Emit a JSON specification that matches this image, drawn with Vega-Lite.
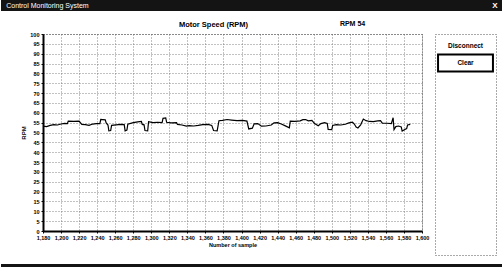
{
  "$schema": "https://vega.github.io/schema/vega-lite/v6.json",
  "padding": 0,
  "background": "white",
  "spacing": 8,
  "align": "none",
  "config": {"font": "Liberation Sans", "view": {"stroke": null}},
  "vconcat": [
    {
      "width": 460,
      "height": 11,
      "data": {"values": [{"label": "Control Monitoring System", "side": "left"}, {"label": "X", "side": "right"}]},
      "layer": [
        {
          "transform": [{"filter": "datum.side === 'left'"}],
          "mark": {"type": "rect", "color": "#141414"},
          "encoding": {
            "x": {"datum": -0.0913, "type": "quantitative", "scale": {"domain": [0, 1]}, "axis": null},
            "x2": {"datum": 1},
            "y": {"datum": 0, "type": "quantitative", "scale": {"domain": [0, 1]}, "axis": null},
            "y2": {"datum": 1}
          }
        },
        {
          "transform": [{"filter": "datum.side === 'left'"}],
          "mark": {"type": "text", "align": "left", "baseline": "middle", "color": "white", "fontSize": 7},
          "encoding": {
            "x": {"datum": -0.08, "type": "quantitative", "axis": null},
            "y": {"datum": 0.5, "type": "quantitative", "axis": null},
            "text": {"field": "label"}
          }
        },
        {
          "transform": [{"filter": "datum.side === 'right'"}],
          "mark": {"type": "text", "align": "right", "baseline": "middle", "color": "white", "fontSize": 8, "fontWeight": "bold"},
          "encoding": {
            "x": {"datum": 0.988, "type": "quantitative", "axis": null},
            "y": {"datum": 0.5, "type": "quantitative", "axis": null},
            "text": {"field": "label"}
          }
        }
      ]
    },
    {
      "spacing": 8,
      "align": "none",
      "vconcat": [
        {
          "spacing": 4,
          "align": "none",
          "hconcat": [
            {
              "width": 379,
              "height": 197,
              "title": {"text": "Motor Speed (RPM)", "fontSize": 7.5, "fontWeight": "bold", "offset": -8, "dx": -19, "color": "black"},
              "view": {"stroke": "#444", "strokeDash": [1, 2]},
              "resolve": {"axis": {"x": "independent", "y": "independent"}},
              "data": {"values": [
                {"sample": 1180, "rpm": 53.2}, {"sample": 1184, "rpm": 53.0}, {"sample": 1188, "rpm": 53.6}, {"sample": 1192, "rpm": 54.0},
                {"sample": 1196, "rpm": 53.8}, {"sample": 1200, "rpm": 54.3}, {"sample": 1204, "rpm": 54.6}, {"sample": 1207, "rpm": 54.5},
                {"sample": 1208, "rpm": 55.8}, {"sample": 1214, "rpm": 55.6}, {"sample": 1220, "rpm": 55.8}, {"sample": 1223, "rpm": 54.1},
                {"sample": 1227, "rpm": 54.0}, {"sample": 1231, "rpm": 53.6}, {"sample": 1235, "rpm": 54.3}, {"sample": 1239, "rpm": 54.5},
                {"sample": 1243, "rpm": 54.5}, {"sample": 1244, "rpm": 56.6}, {"sample": 1249, "rpm": 56.4}, {"sample": 1250, "rpm": 54.9},
                {"sample": 1252, "rpm": 53.8}, {"sample": 1253, "rpm": 50.9}, {"sample": 1255, "rpm": 51.0}, {"sample": 1256, "rpm": 53.6},
                {"sample": 1261, "rpm": 53.9}, {"sample": 1266, "rpm": 54.1}, {"sample": 1270, "rpm": 54.0}, {"sample": 1271, "rpm": 50.8},
                {"sample": 1273, "rpm": 51.2}, {"sample": 1274, "rpm": 54.2}, {"sample": 1280, "rpm": 55.0}, {"sample": 1285, "rpm": 55.4},
                {"sample": 1289, "rpm": 55.6}, {"sample": 1290, "rpm": 54.1}, {"sample": 1292, "rpm": 53.9}, {"sample": 1293, "rpm": 51.0},
                {"sample": 1296, "rpm": 50.8}, {"sample": 1297, "rpm": 55.5}, {"sample": 1302, "rpm": 55.0}, {"sample": 1307, "rpm": 55.2},
                {"sample": 1312, "rpm": 55.0}, {"sample": 1313, "rpm": 57.2}, {"sample": 1316, "rpm": 57.4}, {"sample": 1317, "rpm": 55.2},
                {"sample": 1322, "rpm": 54.9}, {"sample": 1328, "rpm": 55.0}, {"sample": 1329, "rpm": 54.1}, {"sample": 1334, "rpm": 53.8},
                {"sample": 1339, "rpm": 53.2}, {"sample": 1342, "rpm": 53.5}, {"sample": 1347, "rpm": 53.3}, {"sample": 1352, "rpm": 53.6},
                {"sample": 1357, "rpm": 54.0}, {"sample": 1363, "rpm": 54.1}, {"sample": 1367, "rpm": 53.6}, {"sample": 1369, "rpm": 51.0},
                {"sample": 1373, "rpm": 50.8}, {"sample": 1375, "rpm": 56.0}, {"sample": 1379, "rpm": 56.2}, {"sample": 1384, "rpm": 56.6},
                {"sample": 1389, "rpm": 56.3}, {"sample": 1395, "rpm": 56.0}, {"sample": 1401, "rpm": 56.2}, {"sample": 1406, "rpm": 55.8},
                {"sample": 1408, "rpm": 51.8}, {"sample": 1412, "rpm": 52.2}, {"sample": 1414, "rpm": 54.4}, {"sample": 1418, "rpm": 54.5},
                {"sample": 1422, "rpm": 53.2}, {"sample": 1427, "rpm": 53.3}, {"sample": 1433, "rpm": 53.8}, {"sample": 1436, "rpm": 54.9},
                {"sample": 1440, "rpm": 55.0}, {"sample": 1444, "rpm": 54.3}, {"sample": 1448, "rpm": 53.5}, {"sample": 1453, "rpm": 52.4},
                {"sample": 1454, "rpm": 55.8}, {"sample": 1459, "rpm": 55.6}, {"sample": 1465, "rpm": 55.9}, {"sample": 1468, "rpm": 56.5},
                {"sample": 1471, "rpm": 56.6}, {"sample": 1474, "rpm": 55.9}, {"sample": 1478, "rpm": 56.2}, {"sample": 1481, "rpm": 54.5},
                {"sample": 1485, "rpm": 53.4}, {"sample": 1488, "rpm": 54.5}, {"sample": 1492, "rpm": 55.0}, {"sample": 1495, "rpm": 54.6},
                {"sample": 1496, "rpm": 51.6}, {"sample": 1500, "rpm": 51.5}, {"sample": 1501, "rpm": 53.6}, {"sample": 1505, "rpm": 54.0},
                {"sample": 1510, "rpm": 53.8}, {"sample": 1515, "rpm": 54.2}, {"sample": 1519, "rpm": 54.9}, {"sample": 1523, "rpm": 55.2},
                {"sample": 1525, "rpm": 54.3}, {"sample": 1527, "rpm": 52.8}, {"sample": 1529, "rpm": 52.3}, {"sample": 1532, "rpm": 53.9},
                {"sample": 1535, "rpm": 56.8}, {"sample": 1538, "rpm": 56.0}, {"sample": 1542, "rpm": 55.6}, {"sample": 1546, "rpm": 55.5},
                {"sample": 1551, "rpm": 55.9}, {"sample": 1554, "rpm": 56.0}, {"sample": 1556, "rpm": 54.8}, {"sample": 1561, "rpm": 54.7},
                {"sample": 1566, "rpm": 54.5}, {"sample": 1568, "rpm": 57.5}, {"sample": 1569, "rpm": 51.5}, {"sample": 1571, "rpm": 53.0},
                {"sample": 1574, "rpm": 53.3}, {"sample": 1577, "rpm": 52.8}, {"sample": 1578, "rpm": 50.7}, {"sample": 1581, "rpm": 51.5},
                {"sample": 1583, "rpm": 52.0}, {"sample": 1584, "rpm": 53.8}, {"sample": 1587, "rpm": 54.1}
              ]},
              "layer": [
                {
                  "mark": {"type": "line", "color": "black", "strokeWidth": 1.2},
                  "encoding": {
                    "x": {
                      "field": "sample", "type": "quantitative",
                      "scale": {"domain": [1180, 1600], "nice": false, "zero": false},
                      "axis": {
                        "title": "Number of sample",
                        "values": [1180, 1200, 1220, 1240, 1260, 1280, 1300, 1320, 1340, 1360, 1380, 1400, 1420, 1440, 1460, 1480, 1500, 1520, 1540, 1560, 1580, 1600],
                        "labelExpr": "format(datum.value, ',.0f')",
                        "labelFontSize": 5.5, "labelFontWeight": "bold", "labelColor": "black",
                        "labelOverlap": false, "labelFlush": false, "labelPadding": 2,
                        "tickSize": 2, "tickColor": "black",
                        "titleFontSize": 5.5, "titleFontWeight": "bold", "titleColor": "black", "titlePadding": 2,
                        "domainColor": "black", "domainWidth": 2,
                        "grid": true, "gridColor": "#666", "gridDash": [1, 2], "gridWidth": 0.8
                      }
                    },
                    "y": {
                      "field": "rpm", "type": "quantitative",
                      "scale": {"domain": [0, 100], "nice": false},
                      "axis": {
                        "title": "RPM",
                        "values": [0, 5, 10, 15, 20, 25, 30, 35, 40, 45, 50, 55, 60, 65, 70, 75, 80, 85, 90, 95, 100],
                        "labelFontSize": 5.5, "labelFontWeight": "bold", "labelColor": "black",
                        "labelOverlap": false, "labelFlush": false, "labelPadding": 2,
                        "tickSize": 2, "tickColor": "black",
                        "titleFontSize": 6, "titleFontWeight": "bold", "titleColor": "black", "titleX": -17,
                        "minExtent": 42, "maxExtent": 42,
                        "domainColor": "black", "domainWidth": 2,
                        "grid": true, "gridColor": "#666", "gridDash": [1, 2], "gridWidth": 0.8
                      }
                    }
                  }
                },
                {
                  "data": {"values": [{"label": "RPM  54"}]},
                  "mark": {"type": "text", "fontSize": 7, "fontWeight": "bold", "baseline": "middle", "color": "black"},
                  "encoding": {
                    "x": {"datum": 1523, "type": "quantitative", "axis": null},
                    "y": {"datum": 105, "type": "quantitative", "axis": null},
                    "text": {"field": "label"}
                  }
                }
              ]
            },
            {
              "width": 61,
              "height": 221,
              "view": {"stroke": "#555", "strokeDash": [1, 2]},
              "data": {"values": [{"button": "Disconnect"}, {"button": "Clear"}]},
              "encoding": {
                "y": {"field": "button", "type": "nominal", "sort": null,
                      "scale": {"domain": ["Disconnect", "Clear"], "range": [0, 41], "paddingInner": 0, "paddingOuter": 0.206},
                      "axis": null}
              },
              "layer": [
                {
                  "transform": [{"filter": "datum.button === 'Clear'"}],
                  "mark": {"type": "rect", "fill": "white", "stroke": "black", "strokeWidth": 2},
                  "encoding": {
                    "x": {"datum": 0.05, "type": "quantitative", "scale": {"domain": [0, 1]}, "axis": null},
                    "x2": {"datum": 0.95}
                  }
                },
                {
                  "mark": {"type": "text", "fontSize": 6.5, "fontWeight": "bold", "color": "black", "baseline": "middle"},
                  "encoding": {
                    "x": {"datum": 0.5, "type": "quantitative", "axis": null},
                    "text": {"field": "button"}
                  }
                }
              ]
            }
          ]
        },
        {
          "width": 460,
          "height": 3,
          "data": {"values": [{"part": "frame"}]},
          "mark": {"type": "rect", "color": "#141414"},
          "encoding": {
            "x": {"datum": -0.0913, "type": "quantitative", "scale": {"domain": [0, 1]}, "axis": null},
            "x2": {"datum": 1},
            "y": {"datum": 0, "type": "quantitative", "scale": {"domain": [0, 1]}, "axis": null},
            "y2": {"datum": 1}
          }
        }
      ]
    }
  ]
}
